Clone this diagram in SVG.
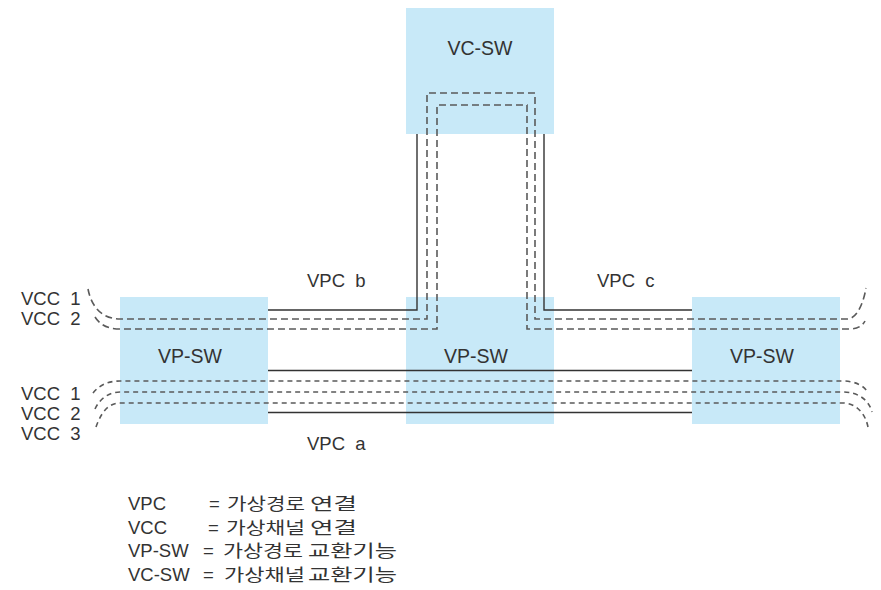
<svg xmlns="http://www.w3.org/2000/svg" width="881" height="590" viewBox="0 0 881 590">
<style>
.box{fill:#c8e9f8;}
.t{font-family:"Liberation Sans","Noto Sans CJK KR",sans-serif;font-size:18.5px;fill:#333;}
.b{font-size:19.5px;}
.k{font-family:"Noto Sans CJK KR","Liberation Sans",sans-serif;font-size:16.5px;}
.solid{fill:none;stroke:#333;stroke-width:1.4;}
.dl{fill:none;stroke:#5a5a5a;stroke-width:1.6;stroke-dasharray:7 4;}
.ds{fill:none;stroke:#5a5a5a;stroke-width:1.6;stroke-dasharray:5 4;}
</style>
<rect width="881" height="590" fill="#fff"/>
<g id="vc-sw"><rect class="box" x="406" y="8" width="148" height="126"/><text class="t b" x="480" y="55" text-anchor="middle">VC-SW</text></g>
<g id="vp-sw-left"><rect class="box" x="120" y="297" width="148" height="127"/><text class="t b" x="190" y="363" text-anchor="middle">VP-SW</text></g>
<g id="vp-sw-center"><rect class="box" x="406" y="297" width="148" height="127"/><text class="t b" x="476" y="363" text-anchor="middle">VP-SW</text></g>
<g id="vp-sw-right"><rect class="box" x="692" y="297" width="148" height="127"/><text class="t b" x="762" y="363" text-anchor="middle">VP-SW</text></g>
<g id="connectors">
<path class="solid" d="M268,310 H417 V134"/>
<path class="solid" d="M692,310 H544 V134"/>
<path class="solid" d="M268,370.5 H692"/>
<path class="solid" d="M268,412.5 H692"/>
<path class="dl" d="M88,289 C92,310 105,319 120,319 L427,319 L427,93 L535,93 L535,319 L847,319 C858,319 864,300 866,288"/>
<path class="dl" d="M95,317 C100,325 108,329 120,329 L437,329 L437,105 L527,105 L527,329 L850,329 C858,329 863,325 865,321"/>
<path class="ds" d="M93,393 C100,384 110,381 120,381 L843,381 C855,381 865,386 868,393"/>
<path class="ds" d="M95,409 C100,398 110,392 120,392 L843,392 C858,392 869,400 872,412"/>
<path class="ds" d="M96,427 C102,410 110,403 120,403 L843,403 C855,403 865,412 868,427"/>
</g>
<g id="labels">
<text class="t" x="307" y="287" word-spacing="5">VPC b</text>
<text class="t" x="597" y="287" word-spacing="5">VPC c</text>
<text class="t" x="307" y="450" word-spacing="5">VPC a</text>
<text class="t" x="21" y="305" word-spacing="5">VCC 1</text>
<text class="t" x="21" y="325" word-spacing="5">VCC 2</text>
<text class="t" x="21" y="400" word-spacing="5">VCC 1</text>
<text class="t" x="21" y="420" word-spacing="5">VCC 2</text>
<text class="t" x="21" y="440" word-spacing="5">VCC 3</text>
</g>
<g id="legend">
<text class="t" y="510"><tspan x="128">VPC</tspan><tspan x="209">=</tspan><tspan class="k" x="227" textLength="78" lengthAdjust="spacingAndGlyphs">가상경로</tspan><tspan class="k" x="310" textLength="47" lengthAdjust="spacingAndGlyphs">연결</tspan></text>
<text class="t" y="534"><tspan x="128">VCC</tspan><tspan x="208">=</tspan><tspan class="k" x="226" textLength="79" lengthAdjust="spacingAndGlyphs">가상채널</tspan><tspan class="k" x="310" textLength="47" lengthAdjust="spacingAndGlyphs">연결</tspan></text>
<text class="t" y="557"><tspan x="128">VP-SW</tspan><tspan x="203">=</tspan><tspan class="k" x="223" textLength="80" lengthAdjust="spacingAndGlyphs">가상경로</tspan><tspan class="k" x="308" textLength="89" lengthAdjust="spacingAndGlyphs">교환기능</tspan></text>
<text class="t" y="581"><tspan x="128">VC-SW</tspan><tspan x="203">=</tspan><tspan class="k" x="224" textLength="81" lengthAdjust="spacingAndGlyphs">가상채널</tspan><tspan class="k" x="308" textLength="89" lengthAdjust="spacingAndGlyphs">교환기능</tspan></text>
</g>
</svg>
